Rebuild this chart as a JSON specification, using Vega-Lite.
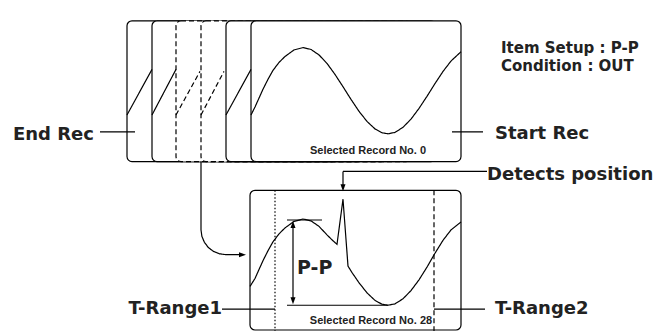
{
  "$schema": "https://vega.github.io/schema/vega-lite/v6.json",
  "width": 663,
  "height": 334,
  "autosize": {"type": "fit", "contains": "padding"},
  "padding": 0,
  "background": "white",
  "config": {"view": {"stroke": null}},
  "encoding": {
    "x": {"field": "x", "type": "quantitative", "scale": {"domain": [0, 663], "nice": false, "zero": false}, "axis": null},
    "y": {"field": "y", "type": "quantitative", "scale": {"domain": [0, 334], "nice": false, "zero": false, "reverse": true}, "axis": null}
  },
  "layer": [
    {
      "data": {"values": [
        {"x": 127, "x2": 337, "y": 21, "y2": 163},
        {"x": 152, "x2": 362, "y": 21, "y2": 163}
      ]},
      "mark": {"type": "rect", "fill": "white", "stroke": "black", "strokeWidth": 1.2, "cornerRadius": 5},
      "encoding": {"x2": {"field": "x2"}, "y2": {"field": "y2"}}
    },
    {
      "data": {"values": [
        {"x": 176, "x2": 386, "y": 21, "y2": 163},
        {"x": 201, "x2": 411, "y": 21, "y2": 163}
      ]},
      "mark": {"type": "rect", "fill": "white", "stroke": "black", "strokeWidth": 1.2, "cornerRadius": 5, "strokeDash": [5, 3]},
      "encoding": {"x2": {"field": "x2"}, "y2": {"field": "y2"}}
    },
    {
      "data": {"values": [
        {"x": 226, "x2": 436, "y": 21, "y2": 163},
        {"x": 251, "x2": 461, "y": 21, "y2": 163},
        {"x": 250, "x2": 461, "y": 192, "y2": 333}
      ]},
      "mark": {"type": "rect", "fill": "white", "stroke": "black", "strokeWidth": 1.2, "cornerRadius": 5},
      "encoding": {"x2": {"field": "x2"}, "y2": {"field": "y2"}}
    },
    {
      "data": {"values": [
        {"id": "wf", "o": 1, "x": 251, "y": 116, "dash": "solid"},
        {"id": "wf", "o": 2, "x": 255, "y": 108, "dash": "solid"},
        {"id": "wf", "o": 3, "x": 259, "y": 99, "dash": "solid"},
        {"id": "wf", "o": 4, "x": 263, "y": 90, "dash": "solid"},
        {"id": "wf", "o": 5, "x": 268, "y": 80, "dash": "solid"},
        {"id": "wf", "o": 6, "x": 273, "y": 71, "dash": "solid"},
        {"id": "wf", "o": 7, "x": 279, "y": 63, "dash": "solid"},
        {"id": "wf", "o": 8, "x": 285, "y": 57, "dash": "solid"},
        {"id": "wf", "o": 9, "x": 294, "y": 50.4, "dash": "solid"},
        {"id": "wf", "o": 10, "x": 303, "y": 48, "dash": "solid"},
        {"id": "wf", "o": 11, "x": 311, "y": 49.9, "dash": "solid"},
        {"id": "wf", "o": 12, "x": 319, "y": 55.4, "dash": "solid"},
        {"id": "wf", "o": 13, "x": 327, "y": 64, "dash": "solid"},
        {"id": "wf", "o": 14, "x": 335, "y": 75.1, "dash": "solid"},
        {"id": "wf", "o": 15, "x": 343, "y": 87.5, "dash": "solid"},
        {"id": "wf", "o": 16, "x": 351, "y": 100.3, "dash": "solid"},
        {"id": "wf", "o": 17, "x": 359, "y": 112.3, "dash": "solid"},
        {"id": "wf", "o": 18, "x": 367, "y": 122.5, "dash": "solid"},
        {"id": "wf", "o": 19, "x": 375, "y": 130.1, "dash": "solid"},
        {"id": "wf", "o": 20, "x": 382, "y": 134, "dash": "solid"},
        {"id": "wf", "o": 21, "x": 388, "y": 135, "dash": "solid"},
        {"id": "wf", "o": 22, "x": 395, "y": 133.6, "dash": "solid"},
        {"id": "wf", "o": 23, "x": 403, "y": 128.5, "dash": "solid"},
        {"id": "wf", "o": 24, "x": 411, "y": 120.2, "dash": "solid"},
        {"id": "wf", "o": 25, "x": 419, "y": 109.4, "dash": "solid"},
        {"id": "wf", "o": 26, "x": 427, "y": 97.2, "dash": "solid"},
        {"id": "wf", "o": 27, "x": 435, "y": 84.3, "dash": "solid"},
        {"id": "wf", "o": 28, "x": 443, "y": 72.1, "dash": "solid"},
        {"id": "wf", "o": 29, "x": 451, "y": 61.6, "dash": "solid"},
        {"id": "wf", "o": 30, "x": 461, "y": 52.2, "dash": "solid"},

        {"id": "wb", "o": 1, "x": 250, "y": 289, "dash": "solid"},
        {"id": "wb", "o": 2, "x": 255, "y": 281, "dash": "solid"},
        {"id": "wb", "o": 3, "x": 259, "y": 272, "dash": "solid"},
        {"id": "wb", "o": 4, "x": 263, "y": 263, "dash": "solid"},
        {"id": "wb", "o": 5, "x": 268, "y": 253, "dash": "solid"},
        {"id": "wb", "o": 6, "x": 273, "y": 244, "dash": "solid"},
        {"id": "wb", "o": 7, "x": 279, "y": 236, "dash": "solid"},
        {"id": "wb", "o": 8, "x": 285, "y": 230, "dash": "solid"},
        {"id": "wb", "o": 9, "x": 294, "y": 223.4, "dash": "solid"},
        {"id": "wb", "o": 10, "x": 303, "y": 221, "dash": "solid"},
        {"id": "wb", "o": 11, "x": 311, "y": 222.9, "dash": "solid"},
        {"id": "wb", "o": 12, "x": 319, "y": 228.4, "dash": "solid"},
        {"id": "wb", "o": 13, "x": 327, "y": 237, "dash": "solid"},
        {"id": "wb", "o": 14, "x": 333, "y": 243, "dash": "solid"},
        {"id": "wb", "o": 15, "x": 337, "y": 246.5, "dash": "solid"},
        {"id": "wb", "o": 16, "x": 343, "y": 201, "dash": "solid"},
        {"id": "wb", "o": 17, "x": 348, "y": 268.5, "dash": "solid"},
        {"id": "wb", "o": 18, "x": 352, "y": 275, "dash": "solid"},
        {"id": "wb", "o": 19, "x": 359, "y": 285.3, "dash": "solid"},
        {"id": "wb", "o": 20, "x": 367, "y": 295.5, "dash": "solid"},
        {"id": "wb", "o": 21, "x": 375, "y": 303.1, "dash": "solid"},
        {"id": "wb", "o": 22, "x": 382, "y": 307, "dash": "solid"},
        {"id": "wb", "o": 23, "x": 388, "y": 308, "dash": "solid"},
        {"id": "wb", "o": 24, "x": 395, "y": 306.6, "dash": "solid"},
        {"id": "wb", "o": 25, "x": 403, "y": 301.5, "dash": "solid"},
        {"id": "wb", "o": 26, "x": 411, "y": 293.2, "dash": "solid"},
        {"id": "wb", "o": 27, "x": 419, "y": 282.4, "dash": "solid"},
        {"id": "wb", "o": 28, "x": 427, "y": 269.5, "dash": "solid"},
        {"id": "wb", "o": 29, "x": 435, "y": 255.5, "dash": "solid"},
        {"id": "wb", "o": 30, "x": 443, "y": 242.5, "dash": "solid"},
        {"id": "wb", "o": 31, "x": 451, "y": 232, "dash": "solid"},
        {"id": "wb", "o": 32, "x": 461, "y": 224, "dash": "solid"},

        {"id": "d1", "o": 1, "x": 127, "y": 116, "dash": "solid"},
        {"id": "d1", "o": 2, "x": 152, "y": 70, "dash": "solid"},
        {"id": "d2", "o": 1, "x": 152, "y": 116, "dash": "solid"},
        {"id": "d2", "o": 2, "x": 176, "y": 70, "dash": "solid"},
        {"id": "d3", "o": 1, "x": 176, "y": 116, "dash": "dashed"},
        {"id": "d3", "o": 2, "x": 200, "y": 72, "dash": "dashed"},
        {"id": "d4", "o": 1, "x": 201, "y": 116, "dash": "dashed"},
        {"id": "d4", "o": 2, "x": 224, "y": 72, "dash": "dashed"},
        {"id": "d5", "o": 1, "x": 226, "y": 116, "dash": "solid"},
        {"id": "d5", "o": 2, "x": 251, "y": 70, "dash": "solid"},

        {"id": "endrec", "o": 1, "x": 100, "y": 133, "dash": "solid"},
        {"id": "endrec", "o": 2, "x": 135, "y": 133, "dash": "solid"},
        {"id": "startrec", "o": 1, "x": 452, "y": 133, "dash": "solid"},
        {"id": "startrec", "o": 2, "x": 483, "y": 133, "dash": "solid"},

        {"id": "conn", "o": 1, "x": 201, "y": 163, "dash": "solid"},
        {"id": "conn", "o": 2, "x": 201, "y": 232, "dash": "solid"},
        {"id": "conn", "o": 3, "x": 201.9, "y": 238.5, "dash": "solid"},
        {"id": "conn", "o": 4, "x": 204.4, "y": 244.5, "dash": "solid"},
        {"id": "conn", "o": 5, "x": 208.3, "y": 249.7, "dash": "solid"},
        {"id": "conn", "o": 6, "x": 213.5, "y": 253.7, "dash": "solid"},
        {"id": "conn", "o": 7, "x": 219.5, "y": 256.1, "dash": "solid"},
        {"id": "conn", "o": 8, "x": 226, "y": 257, "dash": "solid"},
        {"id": "conn", "o": 9, "x": 240, "y": 257, "dash": "solid"},

        {"id": "tr1", "o": 1, "x": 275, "y": 192, "dash": "dotted"},
        {"id": "tr1", "o": 2, "x": 275, "y": 334, "dash": "dotted"},
        {"id": "tr2", "o": 1, "x": 434, "y": 192, "dash": "dashed"},
        {"id": "tr2", "o": 2, "x": 434, "y": 334, "dash": "dashed"},
        {"id": "tr1lab", "o": 1, "x": 222, "y": 312, "dash": "solid"},
        {"id": "tr1lab", "o": 2, "x": 275, "y": 312, "dash": "solid"},
        {"id": "tr2lab", "o": 1, "x": 434, "y": 312, "dash": "solid"},
        {"id": "tr2lab", "o": 2, "x": 485, "y": 312, "dash": "solid"},

        {"id": "det", "o": 1, "x": 487, "y": 173, "dash": "solid"},
        {"id": "det", "o": 2, "x": 343, "y": 173, "dash": "solid"},
        {"id": "det", "o": 3, "x": 343, "y": 187, "dash": "solid"},

        {"id": "pptop", "o": 1, "x": 287, "y": 222, "dash": "solid"},
        {"id": "pptop", "o": 2, "x": 322, "y": 222, "dash": "solid"},
        {"id": "ppbot", "o": 1, "x": 287, "y": 308, "dash": "solid"},
        {"id": "ppbot", "o": 2, "x": 388, "y": 308, "dash": "solid"},
        {"id": "pparr", "o": 1, "x": 293, "y": 228, "dash": "solid"},
        {"id": "pparr", "o": 2, "x": 293, "y": 302, "dash": "solid"}
      ]},
      "mark": {"type": "line", "color": "black", "strokeWidth": 1.2},
      "encoding": {
        "detail": {"field": "id", "type": "nominal"},
        "order": {"field": "o", "type": "quantitative"},
        "strokeDash": {"field": "dash", "type": "nominal", "scale": {"domain": ["solid", "dashed", "dotted"], "range": [[1, 0], [5, 3], [1.5, 2]]}, "legend": null}
      }
    },
    {
      "data": {"values": [
        {"x": 246, "y": 257, "dir": "right"},
        {"x": 343, "y": 193, "dir": "down"},
        {"x": 293, "y": 223, "dir": "up"},
        {"x": 293, "y": 307, "dir": "down"}
      ]},
      "mark": {"type": "point", "filled": true, "color": "black", "opacity": 1, "size": 196, "strokeWidth": 0},
      "encoding": {
        "shape": {"field": "dir", "type": "nominal", "scale": {"domain": ["right", "down", "up"], "range": ["M0,0L-1,-0.36L-1,0.36Z", "M0,0L-0.36,-1L0.36,-1Z", "M0,0L-0.36,1L0.36,1Z"]}, "legend": null}
      }
    },
    {
      "data": {"values": [
        {"x": 13, "y": 141, "label": "End Rec"},
        {"x": 495, "y": 140, "label": "Start Rec"},
        {"x": 487, "y": 182, "label": "Detects position"},
        {"x": 495, "y": 317, "label": "T-Range2"}
      ]},
      "mark": {"type": "text", "align": "left", "baseline": "alphabetic", "font": "DejaVu Sans", "fontWeight": "bold", "fontSize": 18, "color": "#222"},
      "encoding": {"text": {"field": "label"}}
    },
    {
      "data": {"values": [
        {"x": 222, "y": 317, "label": "T-Range1"}
      ]},
      "mark": {"type": "text", "align": "right", "baseline": "alphabetic", "font": "DejaVu Sans", "fontWeight": "bold", "fontSize": 18, "color": "#222"},
      "encoding": {"text": {"field": "label"}}
    },
    {
      "data": {"values": [
        {"x": 501, "y": 53, "label": "Item Setup : P-P"},
        {"x": 501, "y": 72, "label": "Condition : OUT"}
      ]},
      "mark": {"type": "text", "align": "left", "baseline": "alphabetic", "font": "DejaVu Sans", "fontWeight": "bold", "fontSize": 15, "color": "#222"},
      "encoding": {"text": {"field": "label"}}
    },
    {
      "data": {"values": [
        {"x": 297, "y": 276, "label": "P-P"}
      ]},
      "mark": {"type": "text", "align": "left", "baseline": "alphabetic", "font": "DejaVu Sans", "fontWeight": "bold", "fontSize": 19, "color": "#222"},
      "encoding": {"text": {"field": "label"}}
    },
    {
      "data": {"values": [
        {"x": 368, "y": 155, "label": "Selected Record No. 0"},
        {"x": 371, "y": 327, "label": "Selected Record No. 28"}
      ]},
      "mark": {"type": "text", "align": "center", "baseline": "alphabetic", "font": "Liberation Sans", "fontWeight": "bold", "fontSize": 11, "color": "#222"},
      "encoding": {"text": {"field": "label"}}
    }
  ]
}
